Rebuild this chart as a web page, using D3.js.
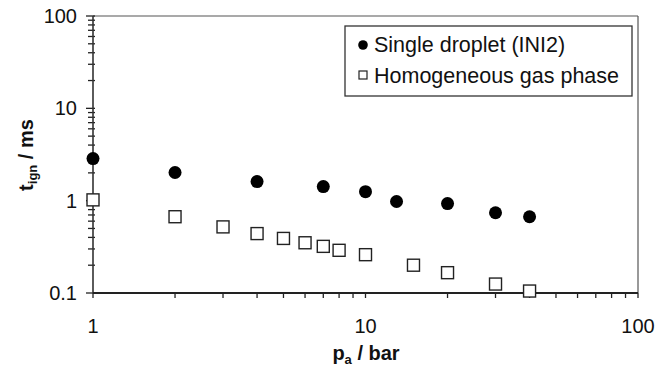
<!DOCTYPE html>
<html><head><meta charset="utf-8">
<script src="https://cdn.jsdelivr.net/npm/d3@7"></script>
<style>body{margin:0;background:#fff}svg{display:block}text{font-family:"Liberation Sans",Arial,sans-serif;fill:#111}</style>
</head><body><svg id="c" width="668" height="369"></svg>
<script>
const dropletP = [1, 2, 4, 7, 10, 13, 20, 30, 40];
const dropletT = [2.86, 2.02, 1.61, 1.42, 1.25, 0.98, 0.93, 0.74, 0.67];
const gasP = [1, 2, 3, 4, 5, 6, 7, 8, 10, 15, 20, 30, 40];
const gasT = [1.02, 0.67, 0.52, 0.44, 0.39, 0.35, 0.32, 0.29, 0.26, 0.20, 0.166, 0.125, 0.105];
const xTicks = [1, 10, 100];
const yTicks = [0.1, 1, 10, 100];
const legendLabels = ["Single droplet (INI2)", "Homogeneous gas phase"];

const svg = d3.select("#c");
const L = 93, R = 638, T = 16, B = 293;
const x = d3.scaleLog().domain([1, 100]).range([L, R]);
const y = d3.scaleLog().domain([0.1, 100]).range([B, T]);

// frame top/right
svg.append("line").attr("x1", L).attr("x2", R).attr("y1", T).attr("y2", T).attr("stroke", "#555").attr("stroke-width", 1.2);
svg.append("line").attr("x1", R).attr("x2", R).attr("y1", T).attr("y2", B).attr("stroke", "#555").attr("stroke-width", 1.2);

// minor ticks
const minorX = [], minorY = [];
[1, 10].forEach(d => { for (let k = 2; k <= 9; k++) minorX.push(d * k); });
[0.1, 1, 10].forEach(d => { for (let k = 2; k <= 9; k++) minorY.push(d * k); });

const g = svg.append("g").attr("stroke", "#222").attr("stroke-width", 1.3);
g.selectAll(".mx").data(minorX.concat(xTicks)).join("line")
  .attr("x1", d => x(d)).attr("x2", d => x(d)).attr("y1", B).attr("y2", B + 5);
g.selectAll(".my").data(minorY).join("line")
  .attr("x1", L - 5).attr("x2", L + 2).attr("y1", d => y(d)).attr("y2", d => y(d));
g.selectAll(".My").data(yTicks).join("line")
  .attr("x1", L - 7).attr("x2", L + 2).attr("y1", d => y(d)).attr("y2", d => y(d));

// axes lines
svg.append("line").attr("x1", L).attr("x2", L).attr("y1", T).attr("y2", B).attr("stroke", "#333").attr("stroke-width", 1.6);
svg.append("line").attr("x1", L).attr("x2", R).attr("y1", B).attr("y2", B).attr("stroke", "#222").attr("stroke-width", 1.8);

// tick labels
svg.selectAll(".xl").data(xTicks).join("text")
  .attr("x", d => x(d)).attr("y", 333).attr("text-anchor", "middle").attr("font-size", 20)
  .text(d => d3.format("~g")(d));
svg.selectAll(".yl").data(yTicks).join("text")
  .attr("x", 77).attr("y", d => y(d) + 7).attr("text-anchor", "end").attr("font-size", 20)
  .text(d => d3.format("~g")(d));

// axis titles
const xt = svg.append("text").attr("x", 366).attr("y", 360).attr("text-anchor", "middle")
  .attr("font-size", 20).attr("font-weight", "bold");
xt.append("tspan").text("p");
xt.append("tspan").attr("font-size", 13).attr("dy", 4).text("a");
xt.append("tspan").attr("dy", -4).text(" / bar");

const yt = svg.append("text").attr("transform", "translate(33,155) rotate(-90)").attr("text-anchor", "middle")
  .attr("font-size", 20).attr("font-weight", "bold");
yt.append("tspan").text("t");
yt.append("tspan").attr("font-size", 13).attr("dy", 4).text("ign");
yt.append("tspan").attr("dy", -4).text(" / ms");

// data
const drop = dropletP.map((p, i) => ({p, t: dropletT[i]}));
const gas = gasP.map((p, i) => ({p, t: gasT[i]}));
svg.selectAll(".sq").data(gas).join("rect")
  .attr("x", d => x(d.p) - 6).attr("y", d => y(d.t) - 6).attr("width", 12).attr("height", 12)
  .attr("fill", "#fff").attr("stroke", "#222").attr("stroke-width", 1.4);
svg.selectAll(".ci").data(drop).join("circle")
  .attr("cx", d => x(d.p)).attr("cy", d => y(d.t)).attr("r", 6.5).attr("fill", "#000");

// legend
const lg = svg.append("g");
lg.append("rect").attr("x", 345).attr("y", 26).attr("width", 287).attr("height", 70)
  .attr("fill", "#fff").attr("stroke", "#333").attr("stroke-width", 1.3);
lg.append("circle").attr("cx", 363).attr("cy", 45).attr("r", 4.8).attr("fill", "#000");
lg.append("rect").attr("x", 359).attr("y", 71).attr("width", 8).attr("height", 8)
  .attr("fill", "#fff").attr("stroke", "#222").attr("stroke-width", 1.2);
lg.selectAll(".lt").data(legendLabels).join("text")
  .attr("x", 374).attr("y", (d, i) => 52 + i * 31).attr("font-size", 21.5).text(d => d);
</script></body></html>
